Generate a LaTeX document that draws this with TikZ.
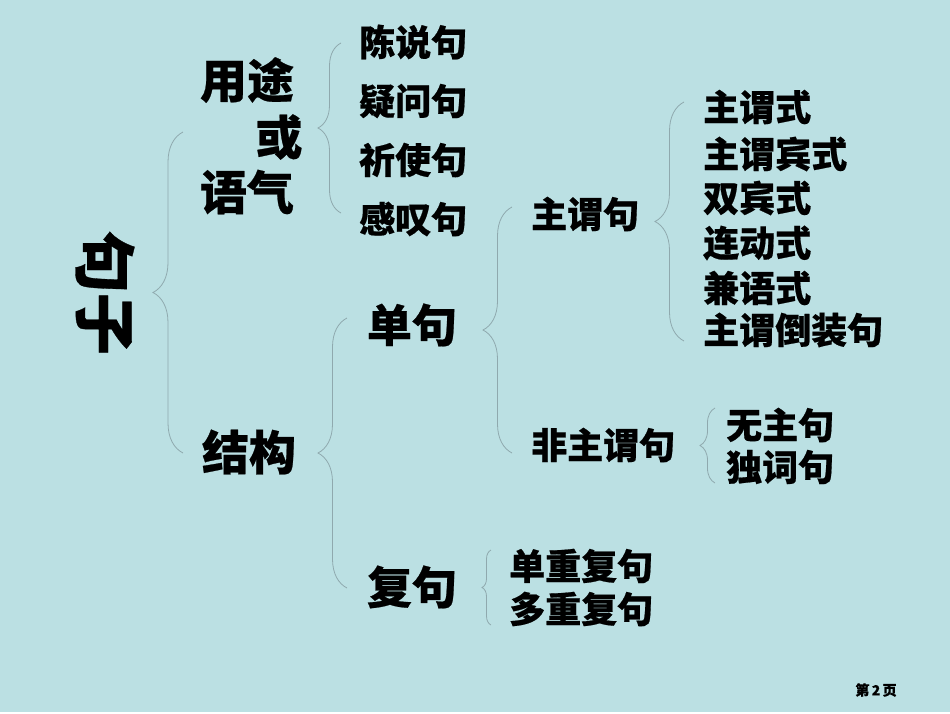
\documentclass[tikz,border=0pt]{standalone}
\usepackage{fontspec}
\setmainfont{Noto Sans CJK SC Bold}[FakeBold=0.5]
\usetikzlibrary{decorations.pathreplacing}
\definecolor{bg}{HTML}{BBE0E3}
\definecolor{brc}{HTML}{8FA9AE}
\begin{document}
\begin{tikzpicture}[x=1pt,y=-1pt,
  txt/.style={inner sep=0pt, text=black, font=\bfseries},
  huge/.style={txt,font=\bfseries\fontsize{62}{62}\selectfont},
  big/.style={txt,font=\bfseries\fontsize{47}{47}\selectfont},
  mid/.style={txt,font=\bfseries\fontsize{45}{45}\selectfont},
  small/.style={txt,font=\bfseries\fontsize{36}{36}\selectfont},
  tiny/.style={txt,font=\bfseries\fontsize{14}{14}\selectfont},
  bracket/.style={draw=brc, line width=0.8pt, decorate, decoration={brace, amplitude=#1}}]
\fill[bg] (0,0) rectangle (950,713);
\fill[white] (0,711.5) rectangle (950,713);
\useasboundingbox (0,0) rectangle (950,713);

% root
\node[huge, rotate=-90] (root) at (105,293) {句子};

% level 1
\node[big] (yt) at (247,80) {用途};
\node[big] (huo) at (279,137) {或};
\node[big] (yq) at (247,192) {语气};
\node[big] (jg) at (249,452) {结构};

% mood list
\node[small, anchor=west] (cs) at (359,42) {陈说句};
\node[small, anchor=west] (yw) at (359,101) {疑问句};
\node[small, anchor=west] (qs) at (359,160) {祈使句};
\node[small, anchor=west] (gt) at (359,219) {感叹句};

% structure
\node[mid] (dj) at (412,325) {单句};
\node[mid] (fj) at (412,587) {复句};

\node[small, anchor=west] (zwj) at (531,214) {主谓句};
\node[small, anchor=west] (fzwj) at (531,445) {非主谓句};

\node[small, anchor=west] (a1) at (703,107) {主谓式};
\node[small, anchor=west] (a2) at (703,154) {主谓宾式};
\node[small, anchor=west] (a3) at (703,198) {双宾式};
\node[small, anchor=west] (a4) at (703,243) {连动式};
\node[small, anchor=west] (a5) at (703,288) {兼语式};
\node[small, anchor=west] (a6) at (703,330) {主谓倒装句};

\node[small, anchor=west] (b1) at (726,425) {无主句};
\node[small, anchor=west] (b2) at (726,467) {独词句};

\node[small, anchor=west] (c1) at (509,566) {单重复句};
\node[small, anchor=west] (c2) at (509,609) {多重复句};

\node[tiny] (pg) at (876,690) {第\,2\,页};

% braces
\coordinate (r1b) at (183,453); \coordinate (r1t) at (183,132);
\draw[bracket=30] (r1b) -- (r1t);
\coordinate (r2b) at (341,213); \coordinate (r2t) at (341,43);
\draw[bracket=23] (r2b) -- (r2t);
\coordinate (r3b) at (347,588); \coordinate (r3t) at (347,318);
\draw[bracket=29] (r3b) -- (r3t);
\coordinate (r4b) at (512,453); \coordinate (r4t) at (512,207);
\draw[bracket=29] (r4b) -- (r4t);
\coordinate (r5b) at (684,341); \coordinate (r5t) at (684,102);
\draw[bracket=29] (r5b) -- (r5t);
\coordinate (r6b) at (715,483); \coordinate (r6t) at (715,408);
\draw[bracket=15] (r6b) -- (r6t);
\coordinate (r7b) at (491,625); \coordinate (r7t) at (491,550);
\draw[bracket=9] (r7b) -- (r7t);
\end{tikzpicture}
\end{document}
